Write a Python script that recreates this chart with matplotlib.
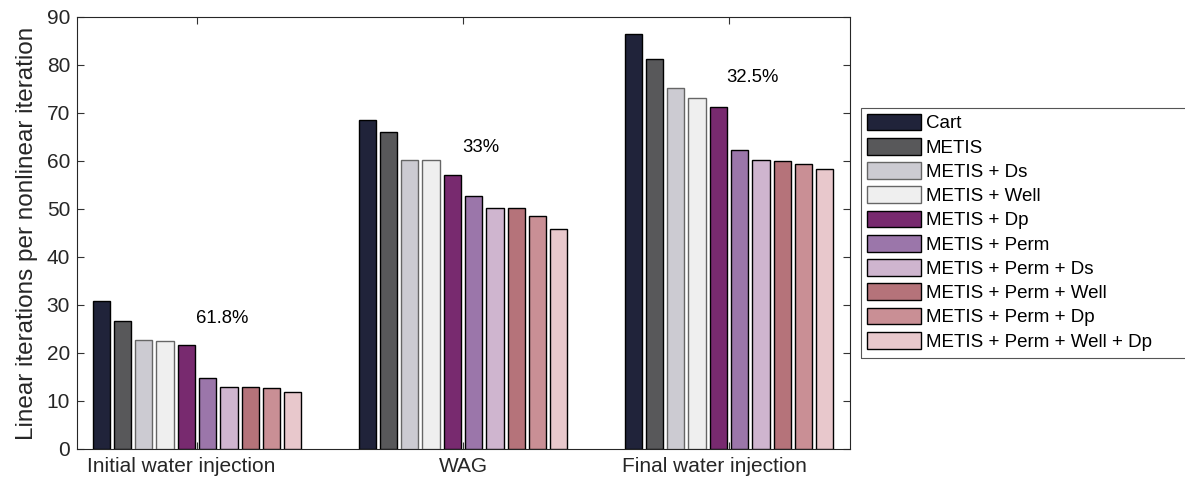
import numpy as np
import matplotlib.pyplot as plt
import matplotlib.transforms as mtransforms
from matplotlib.patches import Rectangle

# Data
phases = ['Initial water injection', 'WAG', 'Final water injection']
methods = ['Cart', 'METIS', 'METIS + Ds', 'METIS + Well', 'METIS + Dp',
           'METIS + Perm', 'METIS + Perm + Ds', 'METIS + Perm + Well',
           'METIS + Perm + Dp', 'METIS + Perm + Well + Dp']
initial_vals = [30.8, 26.7, 22.7, 22.6, 21.6, 14.7, 13.0, 13.0, 12.8, 11.8]
wag_vals = [68.5, 66.0, 60.2, 60.3, 57.0, 52.7, 50.2, 50.2, 48.5, 45.9]
final_vals = [86.4, 81.3, 75.2, 73.1, 71.3, 62.3, 60.2, 59.9, 59.4, 58.3]
reductions = ['61.8%', '33%', '32.5%']

colors = ['#20233a', '#58585a', '#cccbd2', '#efefef', '#782a6f',
          '#9b76aa', '#cfb5cf', '#b5737a', '#c98f95', '#e8c8cc']
edges = ['black', 'black', '#666666', '#666666', 'black',
         'black', 'black', 'black', 'black', 'black']

plt.rcParams['font.family'] = ['Liberation Sans', 'DejaVu Sans']

W, H = 1185, 482
fig = plt.figure(figsize=(W / 100, H / 100), dpi=100)
ax = fig.add_axes([77 / W, 33 / H, 773 / W, 432 / H])

data = np.array([initial_vals, wag_vals, final_vals])
x = np.arange(1, len(phases) + 1)
pitch = 0.080
width = 0.065
offsets = (np.arange(len(methods)) - (len(methods) - 1) / 2) * pitch

for i, name in enumerate(methods):
    ax.bar(x + offsets[i], data[:, i], width=width, color=colors[i],
           edgecolor=edges[i], linewidth=1.0, label=name, zorder=3)

# percentage labels above each group
label_pos = [(1.096, 27.1), (2.068, 62.9), (3.09, 77.3)]
for (lx, ly), txt in zip(label_pos, reductions):
    ax.text(lx, ly, txt, ha='center', va='center', fontsize=13.3)

ax.set_xlim(0.549, 3.455)
ax.set_ylim(0, 90)
ax.set_yticks(np.arange(0, 91, 10))
ax.set_xticks(x)
ax.set_xticklabels(phases, fontsize=15)
ax.tick_params(axis='y', labelsize=15, pad=5)
ax.tick_params(direction='in', top=True, right=True, length=5, width=0.8,
               color='#333333', labelcolor='#262626')
ax.tick_params(axis='x', pad=6)
for s in ax.spines.values():
    s.set_linewidth(0.8)
    s.set_color('#262626')
ax.set_ylabel('Linear iterations per nonlinear iteration', fontsize=17.5,
              color='#262626', labelpad=6)

# the outer group labels sit a little left of their ticks in the original
for lbl, dx in zip(ax.get_xticklabels(), [-16, 0, -15]):
    lbl.set_transform(lbl.get_transform() +
                      mtransforms.ScaledTranslation(dx / 100, 0, fig.dpi_scale_trans))

leg = fig.legend(loc='upper left', bbox_to_anchor=(861 / W, 1 - 108 / H),
                 fontsize=13.5, frameon=False,
                 handlelength=2.9, handleheight=1.0, labelspacing=0.29,
                 handletextpad=0.25, borderpad=0.3, borderaxespad=0)

# legend box runs off the right edge of the picture in the original
fig.patches.append(Rectangle((861 / W, 1 - 358 / H), 340 / W, 250 / H,
                             transform=fig.transFigure, fill=False,
                             edgecolor='#555555', linewidth=0.8))

fig.savefig('out.png', dpi=100)
